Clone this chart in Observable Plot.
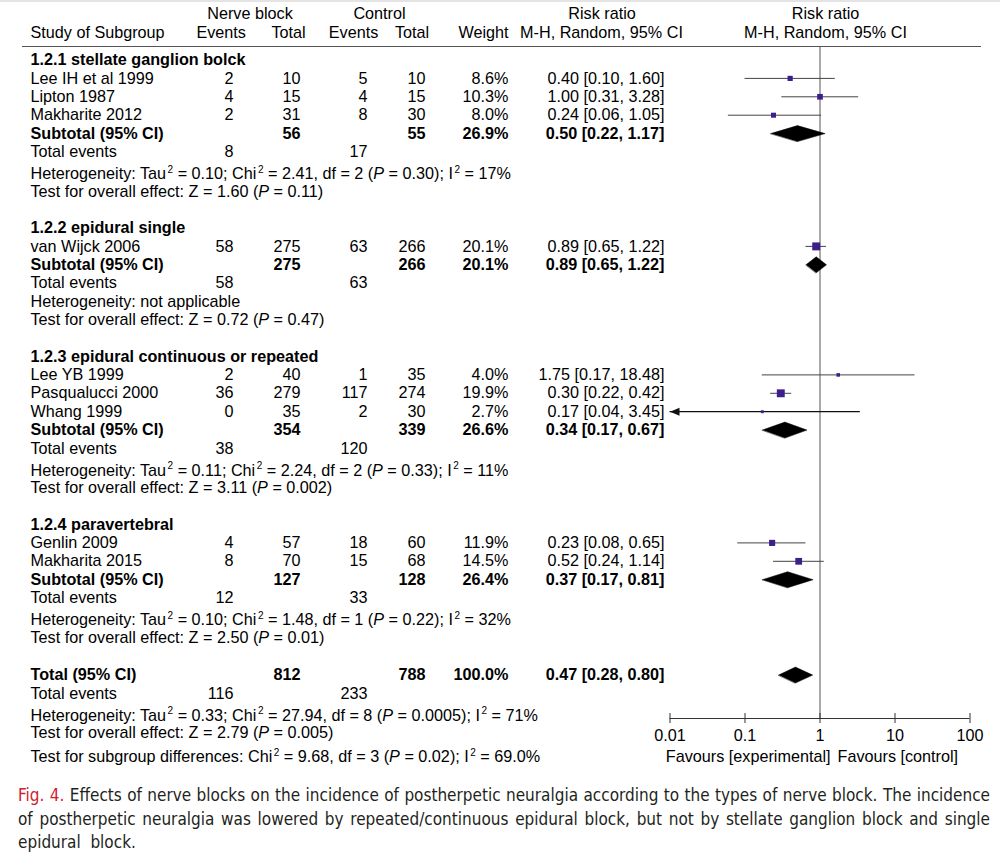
<!DOCTYPE html>
<html>
<head>
<meta charset="utf-8">
<script src="https://cdn.jsdelivr.net/npm/d3@7"></script>
<script src="https://cdn.jsdelivr.net/npm/@observablehq/plot@0.6"></script>
<style>
  html, body { margin: 0; padding: 0; background: #fff; }
  #page { position: relative; width: 1000px; height: 862px; overflow: hidden; }
  #topbar { position: absolute; left: 0; top: 0; width: 1000px; height: 2px; background: #e4e4e4; }
  #chart { position: absolute; left: 0; top: 0; width: 1000px; height: 770px; }
  #chart svg { position: absolute; left: 0; top: 0; }
  #caption { position: absolute; left: 18px; top: 784px; width: 972px;
    font-family: "Liberation Sans Narrow", "DejaVu Sans Condensed", "Liberation Sans", Arial, sans-serif;
    font-size: 17px; line-height: 23.5px; color: #231f20; }
  #caption .ln { white-space: nowrap; text-align: justify; text-align-last: justify; }
  #caption .last { white-space: pre; text-align: left; }
  #caption .fig { color: #d0202e; }
</style>
</head>
<body>
<div id="page">
  <div id="chart"></div>
  <div id="topbar"></div>
  <div id="caption"></div>
</div>
<script>
// ---------------- DATA ----------------
const headerLine1 = ["Nerve block", "Control", "Risk ratio", "Risk ratio"];
const headerLine2 = ["Study of Subgroup", "Events", "Total", "Events", "Total", "Weight", "M-H, Random, 95% CI", "M-H, Random, 95% CI"];

const groupTitles = ["1.2.1 stellate ganglion bolck", "1.2.2 epidural single", "1.2.3 epidural continuous or repeated", "1.2.4 paravertebral"];

const studyNames = ["Lee IH et al 1999", "Lipton 1987", "Makharite 2012", "van Wijck 2006", "Lee YB 1999", "Pasqualucci 2000", "Whang 1999", "Genlin 2009", "Makharita 2015"];
const studyGroup = [0, 0, 0, 1, 2, 2, 2, 3, 3];
const nbEvents   = [2, 4, 2, 58, 2, 36, 0, 4, 8];
const nbTotal    = [10, 15, 31, 275, 40, 279, 35, 57, 70];
const ctEvents   = [5, 4, 8, 63, 1, 117, 2, 18, 15];
const ctTotal    = [10, 15, 30, 266, 35, 274, 30, 60, 68];
const weights    = [8.6, 10.3, 8.0, 20.1, 4.0, 19.9, 2.7, 11.9, 14.5];
const rr         = [0.40, 1.00, 0.24, 0.89, 1.75, 0.30, 0.17, 0.23, 0.52];
const rrLo       = [0.10, 0.31, 0.06, 0.65, 0.17, 0.22, 0.04, 0.08, 0.24];
const rrHi       = [1.60, 3.28, 1.05, 1.22, 18.48, 0.42, 3.45, 0.65, 1.14];
const ciOffScaleLeft = [false, false, false, false, false, false, true, false, false];

const subNbTotal  = [56, 275, 354, 127];
const subCtTotal  = [55, 266, 339, 128];
const subWeight   = [26.9, 20.1, 26.6, 26.4];
const subRR       = [0.50, 0.89, 0.34, 0.37];
const subLo       = [0.22, 0.65, 0.17, 0.17];
const subHi       = [1.17, 1.22, 0.67, 0.81];
const subNbEvents = [8, 58, 38, 12];
const subCtEvents = [17, 63, 120, 33];
const subHet = [
  "Heterogeneity: Tau² = 0.10; Chi² = 2.41, df = 2 (P = 0.30); I² = 17%",
  "Heterogeneity: not applicable",
  "Heterogeneity: Tau² = 0.11; Chi² = 2.24, df = 2 (P = 0.33); I² = 11%",
  "Heterogeneity: Tau² = 0.10; Chi² = 1.48, df = 1 (P = 0.22); I² = 32%"
];
const subTest = [
  "Test for overall effect: Z = 1.60 (P = 0.11)",
  "Test for overall effect: Z = 0.72 (P = 0.47)",
  "Test for overall effect: Z = 3.11 (P = 0.002)",
  "Test for overall effect: Z = 2.50 (P = 0.01)"
];

const totalLabel = "Total (95% CI)";
const totalNb = 812, totalCt = 788, totalWeight = 100.0;
const totalRR = 0.47, totalLo = 0.28, totalHi = 0.80;
const totalNbEvents = 116, totalCtEvents = 233;
const totalHet = "Heterogeneity: Tau² = 0.33; Chi² = 27.94, df = 8 (P = 0.0005); I² = 71%";
const totalTest = "Test for overall effect: Z = 2.79 (P = 0.005)";
const subgroupTest = "Test for subgroup differences: Chi² = 9.68, df = 3 (P = 0.02); I² = 69.0%";

const axisTicks  = [0.01, 0.1, 1, 10, 100];
const axisLabels = ["0.01", "0.1", "1", "10", "100"];
const favoursLabels = ["Favours [experimental]", "Favours [control]"];

const captionFig = "Fig. 4.";
const captionLines = [
  " Effects of nerve blocks on the incidence of postherpetic neuralgia according to the types of nerve block. The incidence",
  "of postherpetic neuralgia was lowered by repeated/continuous epidural block, but not by stellate ganglion block and single",
  "epidural  block."
];

// ---------------- LAYOUT ----------------
const W = 1000, H = 770;
const FONT = "'Liberation Sans', Arial, Helvetica, sans-serif";
const FS = 16.2;
const col = { name: 30, nbEv: 233, nbTot: 300, ctEv: 367, ctTot: 425, weight: 508, rr: 664 };
const hdr1 = [249.5, 379, 601.5, 825];
const hdr2 = [[30, "start"], [220.7, "middle"], [288, "middle"], [353, "middle"], [411.5, "middle"], [508, "end"], [601, "middle"], [825, "middle"]];
const L = { hdrY1: 13.5, hdrY2: 32.5, ruleY: 46, ruleX1: 22, ruleX2: 981, firstRow: 59.5,
  axisY: 718, tickHalf: 5, tickLabelY: 735, favoursY: 756, favEnd: 830, favStart: 837, diamondHalf: 8 };
const gap = { row: 18.4, het: 22, testAfterHet: 17.5, group: 36.5, total: 37.5, subgroupTest: 24 };

const fmt2 = v => v.toFixed(2);
const ciText = (e, l, h) => `${fmt2(e)} [${fmt2(l)}, ${fmt2(h)}]`;
const pct = v => v.toFixed(1) + "%";

// ---------------- BUILD ROWS ----------------
const cells = [];
const studies = [];
const summaries = [];
function cell(x, y, text, anchor = "end", bold = false) { cells.push({ x, y, text: String(text), anchor, bold }); }

headerLine1.forEach((t, i) => cell(hdr1[i], L.hdrY1, t, "middle"));
headerLine2.forEach((t, i) => cell(hdr2[i][0], L.hdrY2, t, hdr2[i][1]));

let y = L.firstRow;
groupTitles.forEach((title, g) => {
  if (g > 0) y += gap.group;
  cell(col.name, y, title, "start", true);
  studyNames.forEach((n, i) => {
    if (studyGroup[i] !== g) return;
    y += gap.row;
    cell(col.name, y, n, "start");
    cell(col.nbEv, y, nbEvents[i]);
    cell(col.nbTot, y, nbTotal[i]);
    cell(col.ctEv, y, ctEvents[i]);
    cell(col.ctTot, y, ctTotal[i]);
    cell(col.weight, y, pct(weights[i]));
    cell(col.rr, y, ciText(rr[i], rrLo[i], rrHi[i]));
    studies.push({ y, rr: rr[i], lo: rrLo[i], hi: rrHi[i], weight: weights[i], off: ciOffScaleLeft[i] });
  });
  y += gap.row;
  cell(col.name, y, "Subtotal (95% CI)", "start", true);
  cell(col.nbTot, y, subNbTotal[g], "end", true);
  cell(col.ctTot, y, subCtTotal[g], "end", true);
  cell(col.weight, y, pct(subWeight[g]), "end", true);
  cell(col.rr, y, ciText(subRR[g], subLo[g], subHi[g]), "end", true);
  summaries.push({ id: "g" + g, y, est: subRR[g], lo: subLo[g], hi: subHi[g] });
  y += gap.row;
  cell(col.name, y, "Total events", "start");
  cell(col.nbEv, y, subNbEvents[g]);
  cell(col.ctEv, y, subCtEvents[g]);
  const sup = subHet[g].includes("²");
  y += sup ? gap.het : gap.row;
  cell(col.name, y, subHet[g], "start");
  y += sup ? gap.testAfterHet : gap.row;
  cell(col.name, y, subTest[g], "start");
});
y += gap.total;
cell(col.name, y, totalLabel, "start", true);
cell(col.nbTot, y, totalNb, "end", true);
cell(col.ctTot, y, totalCt, "end", true);
cell(col.weight, y, pct(totalWeight), "end", true);
cell(col.rr, y, ciText(totalRR, totalLo, totalHi), "end", true);
summaries.push({ id: "total", y, est: totalRR, lo: totalLo, hi: totalHi });
y += gap.row;
cell(col.name, y, "Total events", "start");
cell(col.nbEv, y, totalNbEvents);
cell(col.ctEv, y, totalCtEvents);
y += gap.het;
cell(col.name, y, totalHet, "start");
y += gap.testAfterHet;
cell(col.name, y, totalTest, "start");
y += gap.subgroupTest;
cell(col.name, y, subgroupTest, "start");

cell(L.favEnd, L.favoursY, favoursLabels[0], "end");
cell(L.favStart, L.favoursY, favoursLabels[1], "start");

const diamondPts = summaries.flatMap(s => [
  { id: s.id, x: s.lo, y: s.y },
  { id: s.id, x: s.est, y: s.y - L.diamondHalf },
  { id: s.id, x: s.hi, y: s.y },
  { id: s.id, x: s.est, y: s.y + L.diamondHalf }
]);

// ---------------- TABLE PLOT ----------------
const textMarks = [];
for (const anchor of ["start", "middle", "end"]) {
  for (const bold of [false, true]) {
    const sub = cells.filter(c => c.anchor === anchor && c.bold === bold);
    if (sub.length) textMarks.push(Plot.text(sub, {
      x: "x", y: "y", text: "text", textAnchor: anchor,
      fontWeight: bold ? "bold" : "normal", fontSize: FS, fill: "#000"
    }));
  }
}
const table = Plot.plot({
  width: W, height: H,
  marginLeft: 0, marginRight: 0, marginTop: 0, marginBottom: 0,
  x: { domain: [0, W], range: [0, W], axis: null },
  y: { domain: [0, H], range: [0, H], axis: null },
  style: { fontFamily: FONT, background: "transparent", overflow: "visible" },
  marks: [
    Plot.ruleY([L.ruleY], { x1: L.ruleX1, x2: L.ruleX2, stroke: "#555", strokeWidth: 1.2 }),
    ...textMarks
  ]
});

// ---------------- FOREST PLOT ----------------
const xMin = axisTicks[0], xMax = axisTicks[axisTicks.length - 1];
const leftArrow = { draw(ctx) { ctx.moveTo(0, 0); ctx.lineTo(9.5, -4); ctx.lineTo(9.5, 4); ctx.closePath(); } };
const forest = Plot.plot({
  width: W, height: H,
  marginLeft: 669.5, marginRight: 30.5, marginTop: 0, marginBottom: 0,
  x: { type: "log", domain: [xMin, xMax], axis: null },
  y: { domain: [0, H], range: [0, H], axis: null },
  r: { type: "sqrt", domain: [0, 25], range: [0, 5] },
  style: { fontFamily: FONT, background: "transparent", overflow: "visible" },
  marks: [
    Plot.ruleX([1], { y1: L.ruleY, y2: L.axisY, stroke: "#555" }),
    Plot.ruleY(studies.filter(d => !d.off), { x1: "lo", x2: "hi", y: "y", stroke: "#444" }),
    Plot.ruleY(studies.filter(d => d.off), { x1: () => xMin, x2: "hi", y: "y", stroke: "#111", strokeWidth: 1.3 }),
    Plot.dot(studies.filter(d => d.off), { x: () => xMin, y: "y", symbol: leftArrow, fill: "#111", stroke: "none" }),
    Plot.dot(studies, { x: "rr", y: "y", r: "weight", symbol: "square", fill: "#3c1f8c", stroke: "none" }),
    Plot.line(diamondPts, { x: "x", y: "y", z: "id", fill: "#000", stroke: "#000", strokeWidth: 0.5, curve: "linear-closed" }),
    Plot.ruleY([L.axisY], { x1: xMin, x2: xMax, stroke: "#333" }),
    Plot.ruleX(axisTicks, { x: d => d, y1: L.axisY - L.tickHalf, y2: L.axisY + L.tickHalf, stroke: "#333" }),
    Plot.text(axisTicks, { x: d => d, y: L.tickLabelY, text: (d, i) => axisLabels[i], fontSize: FS, fill: "#000" })
  ]
});

// superscripts & italic P
function richText(svg) {
  const NS = "http://www.w3.org/2000/svg";
  svg.querySelectorAll("text").forEach(t => {
    const s = t.textContent;
    if (!/²|\(P =/.test(s)) return;
    const parts = s.split(/(²|P(?= =))/).filter(p => p !== "");
    while (t.firstChild) t.removeChild(t.firstChild);
    let raised = false;
    parts.forEach(p => {
      const ts = document.createElementNS(NS, "tspan");
      if (p === "²") {
        ts.textContent = "2";
        ts.setAttribute("font-size", "10");
        ts.setAttribute("dy", "-6.5");
        ts.setAttribute("dx", "1.5");
        raised = true;
      } else {
        ts.textContent = p;
        if (raised) { ts.setAttribute("dy", "6.5"); raised = false; }
        if (p === "P") ts.setAttribute("font-style", "italic");
      }
      t.appendChild(ts);
    });
  });
}
richText(table);

const chart = document.getElementById("chart");
chart.appendChild(table);
chart.appendChild(forest);

// caption
const cap = document.getElementById("caption");
captionLines.forEach((line, i) => {
  const div = document.createElement("div");
  div.className = i < captionLines.length - 1 ? "ln" : "last";
  if (i === 0) {
    const f = document.createElement("span");
    f.className = "fig";
    f.textContent = captionFig;
    div.appendChild(f);
  }
  div.appendChild(document.createTextNode(line));
  cap.appendChild(div);
});
</script>
</body>
</html>
